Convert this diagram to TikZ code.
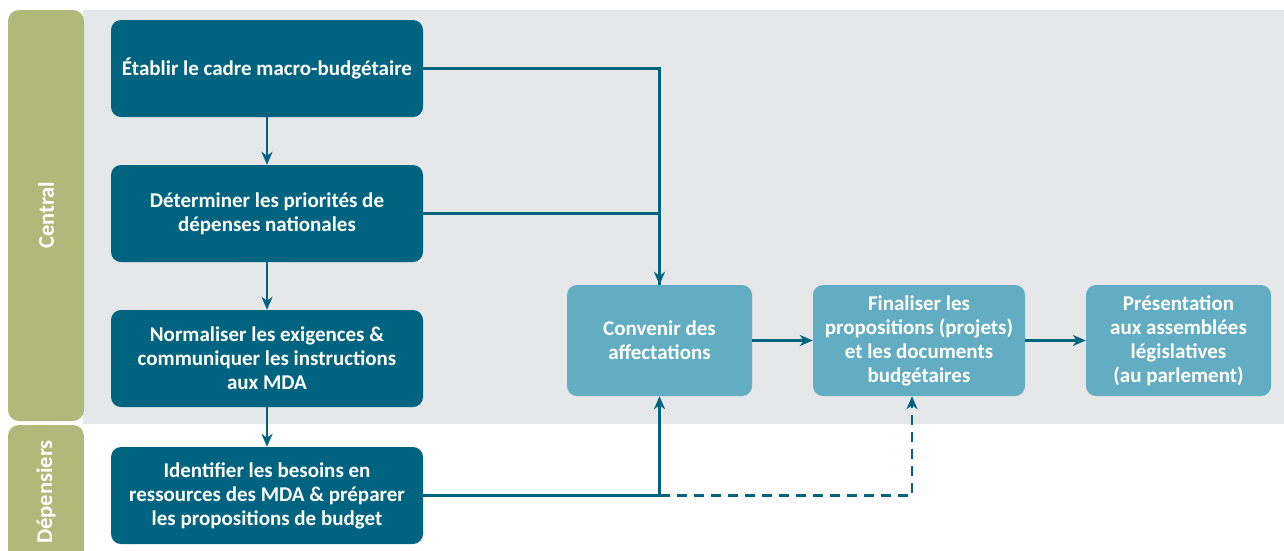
\documentclass[tikz,border=0pt]{standalone}
\usepackage{fontspec}
\setmainfont{Carlito}
\usepackage{tikz}
\usetikzlibrary{arrows.meta,calc}
\definecolor{budgetDark}{RGB}{0,100,128}
\definecolor{budgetLight}{RGB}{98,173,193}
\definecolor{budgetOlive}{RGB}{177,185,122}
\definecolor{budgetGray}{RGB}{230,231,233}

\begin{document}
\begin{tikzpicture}[x=1pt,y=-1pt,
  stage/.style={rectangle,rounded corners=10pt,fill=#1,text=white,
                align=center,font=\fontsize{21}{24}\selectfont\bfseries},
  lane/.style={rounded corners=11pt,fill=budgetOlive},
  lanetxt/.style={rotate=90,text=white,font=\fontsize{22.5}{24}\selectfont\bfseries},
  flow/.style={line width=2.4pt,draw=budgetDark},
  arr/.style={flow,-{Stealth[length=13pt,width=11pt,inset=4pt]}}
]
\useasboundingbox (0,0) rectangle (1284,550);
% Lanes
\fill[budgetGray] (83,10) rectangle (1284,424);
\fill[lane] (8,10) rectangle (84,421);
\fill[lane] (8,425) rectangle (84,580);
\node[lanetxt] (central) at (46,215) {Central};
\node[lanetxt] (depens) at (46,492) {Dépensiers};
% Left column
\node[stage=budgetDark,minimum width=312pt,minimum height=97pt] (cadre) at (267,68.5)
  {Établir le cadre macro-budgétaire};
\node[stage=budgetDark,minimum width=312pt,minimum height=97pt] (prio) at (267,213.5)
  {Déterminer les priorités de\\dépenses nationales};
\node[stage=budgetDark,minimum width=312pt,minimum height=97pt] (norm) at (267,358.5)
  {Normaliser les exigences \&\\communiquer les instructions\\aux MDA};
\node[stage=budgetDark,minimum width=312pt,minimum height=97pt] (ident) at (267,495.5)
  {Identifier les besoins en\\ressources des MDA \& préparer\\les propositions de budget};
% Right row
\node[stage=budgetLight,minimum width=185pt,minimum height=111pt] (conv) at (659.5,340.5)
  {Convenir des\\affectations};
\node[stage=budgetLight,minimum width=212pt,minimum height=111pt] (final) at (919,340.5)
  {Finaliser les\\propositions (projets)\\et les documents\\budgétaires};
\node[stage=budgetLight,minimum width=185pt,minimum height=111pt] (pres) at (1178.5,340.5)
  {Présentation\\aux assemblées\\législatives\\(au parlement)};
% Arrows
\draw[arr] (cadre) -- (prio);
\draw[arr] (prio) -- (norm);
\draw[arr] (norm) -- (ident);
\draw[arr] (cadre.east) -| (conv.north);
\draw[flow] (prio.east) -| (conv.north);
\draw[arr] (ident.east) -| (conv.south);
\coordinate (split) at (conv.south |- ident.east);
\draw[arr,dash pattern=on 10pt off 7pt] (split) -| ([xshift=-7pt]final.south);
\draw[arr] (conv) -- (final);
\draw[arr] (final) -- (pres);
\end{tikzpicture}
\end{document}
